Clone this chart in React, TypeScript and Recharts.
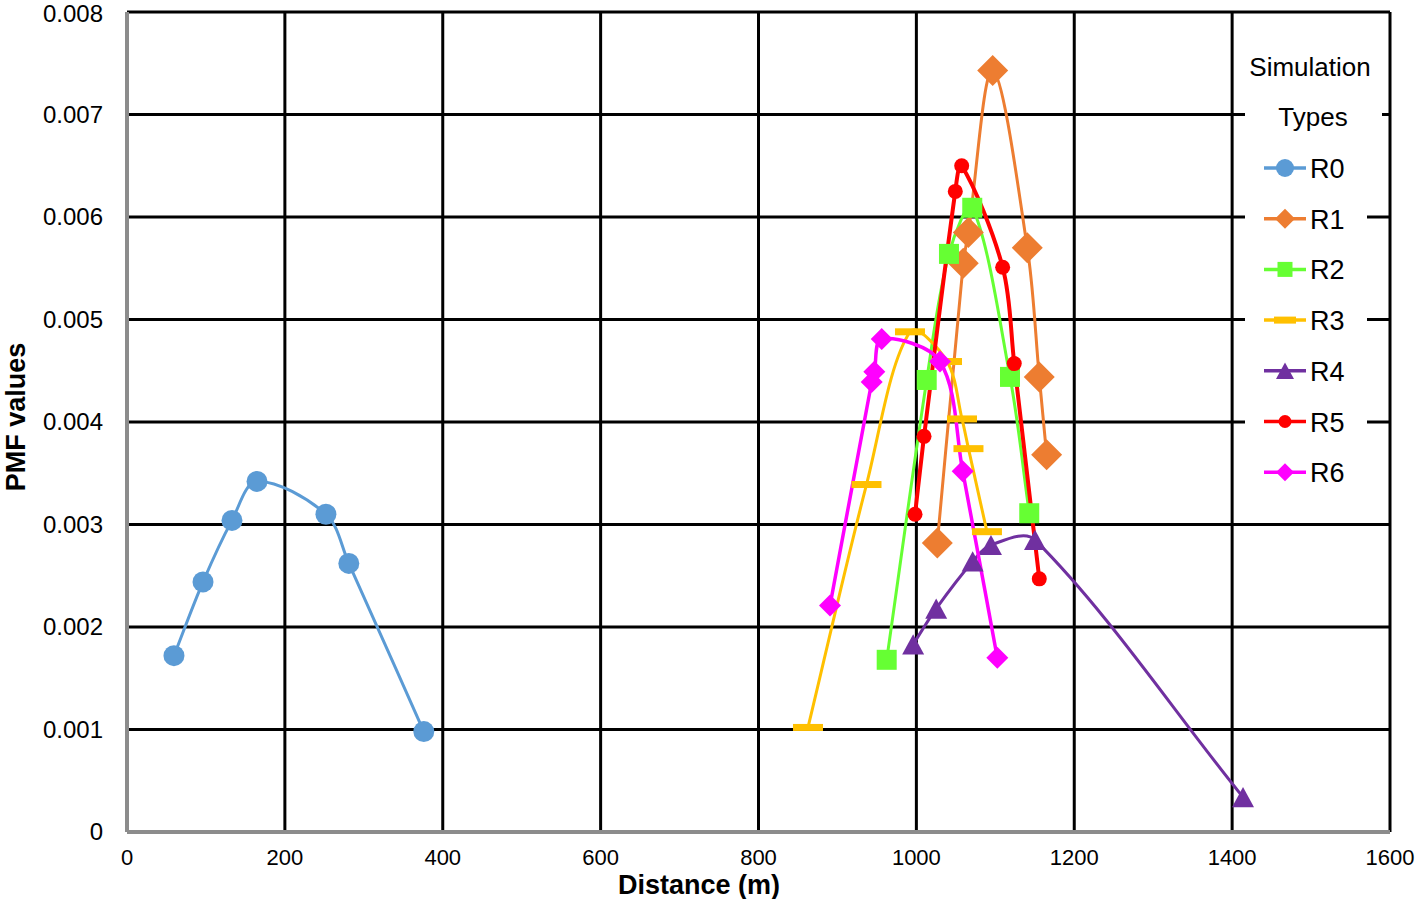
import React from 'react';
import { LineChart, Line, XAxis, YAxis, CartesianGrid, Legend } from 'recharts';

// ---------- data ----------
const xTicks = [0, 200, 400, 600, 800, 1000, 1200, 1400, 1600];
const yTicks = [0, 0.001, 0.002, 0.003, 0.004, 0.005, 0.006, 0.007, 0.008];
const seriesNames = ['R0', 'R1', 'R2', 'R3', 'R4', 'R5', 'R6'];

const r0X = [59.5, 96.3, 133, 164.7, 252, 281, 376];
const r0Y = [0.00172, 0.00244, 0.00304, 0.00342, 0.0031, 0.00262, 0.00098];

const r1X = [1026.5, 1059.4, 1065.8, 1096.7, 1140.5, 1155.7, 1165];
const r1Y = [0.00282, 0.00555, 0.00585, 0.00743, 0.0057, 0.00444, 0.00368];

const r2X = [962.4, 1013.1, 1041.3, 1070.8, 1118.6, 1143];
const r2Y = [0.00168, 0.00441, 0.00564, 0.00609, 0.00444, 0.00311];

const r3X = [862.7, 936.8, 991.9, 1038.8, 1057.8, 1066, 1089.4];
const r3Y = [0.00102, 0.00339, 0.00488, 0.00459, 0.00403, 0.00374, 0.00293];

const r4X = [995.9, 1025.1, 1071.3, 1094.5, 1150.3, 1413.8];
const r4Y = [0.00183, 0.00218, 0.00264, 0.0028, 0.00285, 0.00034];

const r5X = [998.3, 1009.7, 1049.3, 1057.4, 1109.3, 1124, 1155.7];
const r5Y = [0.0031, 0.00386, 0.00625, 0.0065, 0.00551, 0.00457, 0.00247];

const r6X = [890.6, 943.4, 946.7, 956.1, 1029.9, 1058.7, 1102.5];
const r6Y = [0.00221, 0.00439, 0.00449, 0.00481, 0.00459, 0.00352, 0.0017];

const zip = (xs: number[], ys: number[]) => xs.map((x, i) => ({ x, y: ys[i] }));
const seriesData = [
  zip(r0X, r0Y),
  zip(r1X, r1Y),
  zip(r2X, r2Y),
  zip(r3X, r3Y),
  zip(r4X, r4Y),
  zip(r5X, r5Y),
  zip(r6X, r6Y),
];

// ---------- styles ----------
type Kind = 'circle' | 'diamond' | 'square' | 'dash' | 'triangle';
const styles: { color: string; kind: Kind; size: number; width: number; lsize: number }[] = [
  { color: '#5B9BD5', kind: 'circle', size: 21, width: 3, lsize: 18 },
  { color: '#ED7D31', kind: 'diamond', size: 31, width: 3, lsize: 20 },
  { color: '#66FF33', kind: 'square', size: 20, width: 3, lsize: 15 },
  { color: '#FFC000', kind: 'dash', size: 30, width: 3, lsize: 22 },
  { color: '#7030A0', kind: 'triangle', size: 22, width: 3, lsize: 18 },
  { color: '#FF0000', kind: 'circle', size: 15, width: 4, lsize: 13 },
  { color: '#FF00FF', kind: 'diamond', size: 22, width: 3.5, lsize: 18 },
];

const FONT = '"Liberation Sans", Arial, sans-serif';

// Excel-like smoothed line (chord-length weighted Catmull-Rom bezier)
function excelSmooth(context: any) {
  let xs: number[] = [];
  let ys: number[] = [];
  return {
    areaStart() {},
    areaEnd() {},
    lineStart() {
      xs = [];
      ys = [];
    },
    point(x: number, y: number) {
      xs.push(+x);
      ys.push(+y);
    },
    lineEnd() {
      const n = xs.length;
      if (!n) return;
      context.moveTo(xs[0], ys[0]);
      if (n === 2) {
        context.lineTo(xs[1], ys[1]);
        return;
      }
      const dist = (i: number, j: number) => Math.hypot(xs[j] - xs[i], ys[j] - ys[i]);
      const tx: number[] = [];
      const ty: number[] = [];
      for (let i = 0; i < n; i++) {
        const a = i > 0 ? i - 1 : i;
        const b = i < n - 1 ? i + 1 : i;
        tx.push(xs[b] - xs[a]);
        ty.push(ys[b] - ys[a]);
      }
      for (let i = 0; i < n - 1; i++) {
        const dPrev = i > 0 ? dist(i - 1, i) : 0;
        const dCur = dist(i, i + 1);
        const dNext = i < n - 2 ? dist(i + 1, i + 2) : 0;
        const s1 = dPrev + dCur > 0 ? dCur / (3 * (dPrev + dCur)) : 0;
        const s2 = dCur + dNext > 0 ? dCur / (3 * (dCur + dNext)) : 0;
        const c1x = xs[i] + tx[i] * s1;
        const c1y = ys[i] + ty[i] * s1;
        const c2x = xs[i + 1] - tx[i + 1] * s2;
        const c2y = ys[i + 1] - ty[i + 1] * s2;
        context.bezierCurveTo(c1x, c1y, c2x, c2y, xs[i + 1], ys[i + 1]);
      }
    },
  };
}

function Marker({ kind, cx, cy, s, color }: { kind: Kind; cx: number; cy: number; s: number; color: string }) {
  const h = s / 2;
  switch (kind) {
    case 'circle':
      return <circle cx={cx} cy={cy} r={h} fill={color} />;
    case 'diamond':
      return <polygon points={`${cx},${cy - h} ${cx + h},${cy} ${cx},${cy + h} ${cx - h},${cy}`} fill={color} />;
    case 'square':
      return <rect x={cx - h} y={cy - h} width={s} height={s} fill={color} />;
    case 'dash':
      return <rect x={cx - h} y={cy - 3.5} width={s} height={7} fill={color} />;
    case 'triangle': {
      const th = s * 0.92;
      return (
        <polygon
          points={`${cx},${cy - th / 2} ${cx + h},${cy + th / 2} ${cx - h},${cy + th / 2}`}
          fill={color}
        />
      );
    }
  }
  return null;
}

const makeDot = (idx: number) => (p: any) => {
  const st = styles[idx];
  return <Marker key={`m-${idx}-${p.index}`} kind={st.kind} cx={p.cx} cy={p.cy} s={st.size} color={st.color} />;
};

const LegendBox = () => {
  const rowY0 = 168 - 40;
  const step = 50.7;
  return (
    <div style={{ position: 'absolute', left: 1245, top: 40, width: 140, height: 460 }}>
      <svg width={140} height={460} style={{ display: 'block', overflow: 'visible' }}>
        <rect x={0} y={0} width={137} height={100} fill="#fff" />
        <rect x={0} y={0} width={122} height={460} fill="#fff" />
        <text x={65} y={36} textAnchor="middle" fontFamily={FONT} fontSize={26} fill="#000">
          Simulation
        </text>
        <text x={68} y={86} textAnchor="middle" fontFamily={FONT} fontSize={26} fill="#000">
          Types
        </text>
        {seriesNames.map((name, i) => {
          const st = styles[i];
          const cy = rowY0 + i * step;
          return (
            <g key={name}>
              <line x1={19} x2={61} y1={cy} y2={cy} stroke={st.color} strokeWidth={3.5} />
              <Marker kind={st.kind} cx={40} cy={cy} s={st.lsize} color={st.color} />
              <text x={65} y={cy + 10} fontFamily={FONT} fontSize={27} fill="#000">
                {name}
              </text>
            </g>
          );
        })}
      </svg>
    </div>
  );
};

const yFmt = (v: number) => (v === 0 ? '0' : v.toFixed(3));

const YTick = (p: any) => {
  const v = p.payload.value;
  const nudge = v >= 0.008 ? 2 : 0;
  return (
    <text x={p.x} y={p.y + 8 + nudge} textAnchor="end" fontFamily={FONT} fontSize={24} fill="#000">
      {yFmt(v)}
    </text>
  );
};

export default function App() {
  return (
    <div style={{ position: 'absolute', left: 0, top: 0, width: 1418, height: 899, background: '#fff' }}>
      <LineChart width={1418} height={899} margin={{ top: 12, right: 28, left: 0, bottom: 0 }}>
        <CartesianGrid stroke="#000" strokeWidth={3} horizontalValues={yTicks} verticalValues={xTicks} />
        <XAxis
          dataKey="x"
          type="number"
          domain={[0, 1600]}
          ticks={xTicks}
          allowDataOverflow
          height={67}
          tickLine={false}
          tickSize={0}
          tickMargin={17}
          axisLine={{ stroke: '#8c8c8c', strokeWidth: 4 }}
          tick={{ fill: '#000', fontSize: 22, fontFamily: FONT }}
          interval={0}
          label={{
            content: () => (
              <text x={699} y={894} textAnchor="middle" fontFamily={FONT} fontWeight="bold" fontSize={27} fill="#000">
                Distance (m)
              </text>
            ),
          }}
        />
        <YAxis
          type="number"
          domain={[0, 0.008]}
          ticks={yTicks}
          allowDataOverflow
          width={127}
          tickLine={false}
          tickSize={0}
          tickMargin={24}
          axisLine={{ stroke: '#8c8c8c', strokeWidth: 4 }}
          tick={<YTick />}
          interval={0}
          label={{
            content: () => (
              <text
                x={0}
                y={0}
                transform="translate(25,417) rotate(-90)"
                textAnchor="middle"
                fontFamily={FONT}
                fontWeight="bold"
                fontSize={27}
                fill="#000"
              >
                PMF values
              </text>
            ),
          }}
        />
        {seriesNames.map((name, i) => (
          <Line
            key={name}
            name={name}
            data={seriesData[i]}
            dataKey="y"
            type={excelSmooth as any}
            stroke={styles[i].color}
            strokeWidth={styles[i].width}
            dot={makeDot(i)}
            activeDot={false}
            isAnimationActive={false}
          />
        ))}
        <Legend
          content={() => <LegendBox />}
          wrapperStyle={{ position: 'absolute', left: 0, top: 0, width: 0, height: 0 }}
        />
      </LineChart>
    </div>
  );
}
